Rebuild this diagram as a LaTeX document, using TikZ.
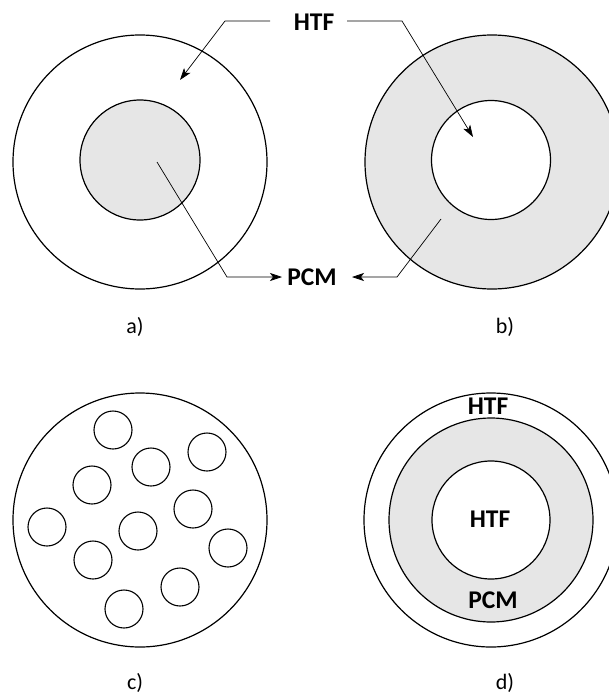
\documentclass[tikz,border=0pt]{standalone}
\usepackage{fontspec}
\setmainfont{Carlito}
\usetikzlibrary{arrows.meta}
\definecolor{pcmgray}{HTML}{E6E6E6}
\begin{document}
\begin{tikzpicture}[x=1pt,y=-1pt,
  ring/.style={circle,draw=black,line width=1.2pt,inner sep=0pt,minimum size=#1},
  tube/.style={circle,draw=black,line width=1.1pt,inner sep=0pt,minimum size=38pt},
  lbl/.style={font=\fontsize{25.5}{27}\selectfont\bfseries,inner sep=1pt},
  subcap/.style={font=\fontsize{22}{24}\selectfont,inner sep=0pt},
  lead/.style={line width=0.7pt,-{Stealth[length=12pt,width=8pt,inset=3pt]}}]
\useasboundingbox (0,0) rectangle (609,696);
% a)
\node[ring=254pt,fill=white] (aout) at (140,162) {};
\node[ring=120pt,fill=pcmgray] (ain) at (140,160) {};
% b)
\node[ring=254pt,fill=pcmgray] (bout) at (492,162) {};
\node[ring=119pt,fill=white] (bin) at (491,160) {};
% labels
\node[lbl] (htf) at (314,22) {HTF};
\node[lbl] (pcm) at (312,277) {PCM};
\coordinate (h0) at (270,21);
\coordinate (h1) at (225,21);
\coordinate (h3) at (347,21);
\coordinate (h2) at (402,21);
\coordinate (ta) at (180,80);
\coordinate (tb) at (473,137);
\coordinate (p1) at (157,162);
\coordinate (p2) at (227,277);
\coordinate (pa) at (282,277);
\coordinate (pb) at (352,277);
\coordinate (p3) at (397,277);
\coordinate (p4) at (441,219);
\draw[lead] (h0) -- (h1) -- (ta);
\draw[lead] (h3) -- (h2) -- (tb);
\draw[lead] (p1) -- (p2) -- (pa);
\draw[lead] (p4) -- (p3) -- (pb);
\node[subcap] (capa) at (135,327) {a)};
\node[subcap] (capb) at (505,327) {b)};
% c)
\node[ring=254pt] (cout) at (140,520) {};
\node[tube] (c1) at (113,430) {};
\node[tube] (c2) at (207,452) {};
\node[tube] (c3) at (151,467) {};
\node[tube] (c4) at (92,485) {};
\node[tube] (c5) at (193,509) {};
\node[tube] (c6) at (47,527) {};
\node[tube] (c7) at (138,531) {};
\node[tube] (c8) at (228,548) {};
\node[tube] (c9) at (93,560) {};
\node[tube] (c10) at (180,587) {};
\node[tube] (c11) at (124,609) {};
\node[subcap] (capc) at (135,683) {c)};
% d)
\node[ring=254pt,fill=white] (dout) at (491,520) {};
\node[ring=204pt,fill=pcmgray] (dmid) at (491,520) {};
\node[ring=118pt,fill=white] (din) at (491,520) {};
\node[lbl] (dhtf1) at (488,406) {HTF};
\node[lbl] (dhtf2) at (490,519) {HTF};
\node[lbl] (dpcm) at (493,600) {PCM};
\node[subcap] (capd) at (505,683) {d)};
\end{tikzpicture}
\end{document}
